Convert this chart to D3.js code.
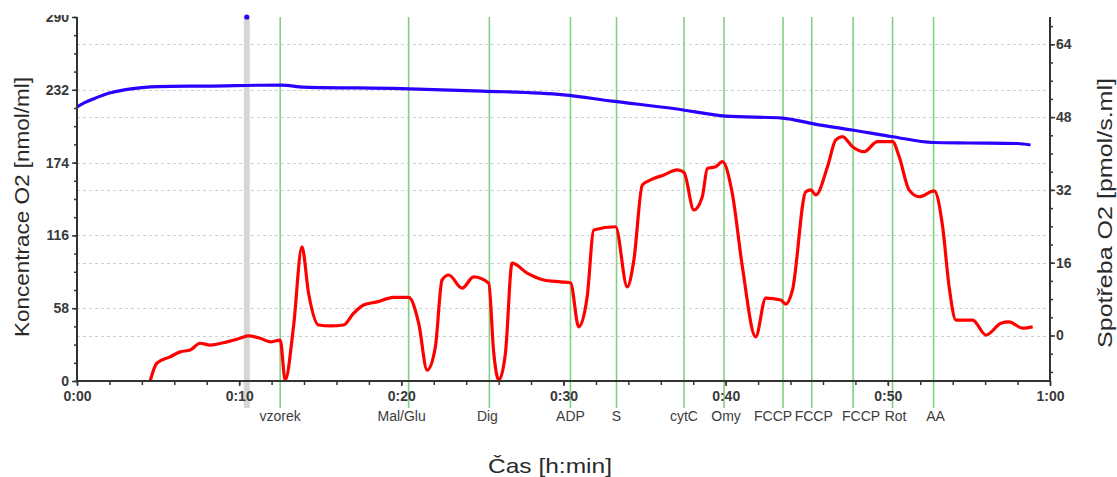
<!DOCTYPE html>
<html><head><meta charset="utf-8">
<script src="https://cdn.jsdelivr.net/npm/d3@7"></script>
<style>html,body{margin:0;padding:0;background:#fff;}svg{display:block;font-family:"Liberation Sans",Arial,sans-serif;}</style>
</head><body>
<svg id="c" width="1117" height="477"></svg>
<script>
// ---- data ----
const leftTicks = [0, 58, 116, 174, 232, 290];
const rightTicks = [0, 16, 32, 48, 64];
const xTicks = [0, 10, 20, 30, 40, 50, 60];
const xTickLabels = ["0:00", "0:10", "0:20", "0:30", "0:40", "0:50", "1:00"];

// O2 concentration (nmol/ml), left axis
const concTime = [0, 0.5, 1, 2, 3, 4, 5, 8, 12.6, 14, 20, 25, 30, 33, 37, 40, 43.5, 45.5, 47.8, 50.3, 52.8, 55, 58, 58.8];
const concValue = [218.3, 222, 224.7, 229.4, 232.2, 233.8, 234.6, 235, 235.8, 234.2, 233, 231, 228, 223, 216.7, 211, 209.5, 204.7, 200, 194.6, 190, 189.6, 189.2, 188];

// O2 consumption (pmol/s.ml), right axis
const fluxTime = [4.51, 4.92, 5.74, 6.36, 6.98, 7.59, 8.21, 9.24, 10.06, 10.57, 11.30, 11.91, 12.53, 12.84, 13.35, 13.87, 14.28, 14.90, 15.62, 16.44, 17.06, 17.67, 18.50, 19.52, 20.45, 21.07, 21.59, 22.10, 22.51, 22.92, 23.75, 24.46, 25.39, 25.70, 26.01, 26.42, 26.83, 27.76, 28.78, 29.81, 30.43, 30.94, 31.46, 31.87, 33.21, 33.93, 34.34, 34.86, 35.37, 36.19, 37.02, 37.43, 38.04, 38.56, 38.87, 39.38, 39.80, 40.41, 41.03, 41.85, 42.47, 43.40, 43.70, 44.12, 44.94, 45.25, 45.56, 46.28, 46.79, 47.20, 47.82, 48.54, 49.36, 50.29, 50.70, 51.31, 51.93, 52.86, 53.38, 53.78, 54.20, 55.23, 56.05, 56.98, 57.47, 58.31, 58.93];
const fluxValue = [-10, -6.1, -4.7, -3.6, -3.2, -1.7, -2.1, -1.4, -0.6, -0.1, -0.6, -1.4, -1.0, -9.8, 1.9, 19.5, 9.3, 2.3, 2.1, 2.3, 4.9, 6.7, 7.4, 8.4, 8.4, 2.7, -7.6, -2.5, 12.2, 13.3, 10.4, 12.9, 11.5, -3.9, -9.8, -3.9, 15.9, 13.7, 12.2, 11.8, 11.6, 1.9, 8.5, 23.2, 23.9, 10.7, 16.6, 33.1, 34.2, 35.3, 36.4, 35.8, 27.6, 30.5, 36.7, 37.1, 38.2, 31.2, 15.1, -0.3, 8.2, 7.8, 6.9, 10.0, 31.6, 32.0, 30.9, 37.1, 43.0, 43.7, 41.5, 40.4, 42.6, 42.6, 39.3, 32.0, 30.5, 31.8, 23.9, 10.7, 3.4, 3.4, 0.1, 2.7, 3.0, 1.6, 1.9];

// events (titration steps)
const eventNames = ["vzorek", "Mal/Glu", "Dig", "ADP", "S", "cytC", "Omy", "FCCP", "FCCP", "FCCP", "Rot", "AA"];
const eventTimes = [12.53, 20.45, 25.43, 30.43, 33.27, 37.43, 39.9, 43.54, 45.31, 47.86, 50.29, 52.82];
const markTime = [10.47];   // gray marker band
const markValue = [290];    // marker dot on concentration axis

// ---- layout ----
const L = 77, R = 1050, T = 17, B = 381;
const labelNudge = [0, -7, -2, 0, 0, 0, 2, -10, 2, 8, 3, 2];
const svg = d3.select("#c");
const x = d3.scaleLinear().domain([0, 60]).range([L, R]);
const yL = d3.scaleLinear().domain([0, 290]).range([B, T]);
const yR = d3.scaleLinear().domain([-10, 70]).range([B, T]);

const defs = svg.append("defs");
defs.append("clipPath").attr("id", "plot")
  .append("rect").attr("x", L).attr("y", T - 2).attr("width", R - L).attr("height", B - T + 2);
defs.append("clipPath").attr("id", "top")
  .append("rect").attr("x", -200).attr("y", 15).attr("width", 400).attr("height", 462);

// grid
const grid = svg.append("g").attr("stroke", "#cfcfcf").attr("stroke-width", 1).attr("stroke-dasharray", "3,3");
leftTicks.filter(v => v > 0 && v < 290).forEach(v => {
  grid.append("line").attr("x1", L).attr("x2", R).attr("y1", Math.round(yL(v)) + 0.5).attr("y2", Math.round(yL(v)) + 0.5);
});
rightTicks.forEach(v => {
  grid.append("line").attr("x1", L).attr("x2", R).attr("y1", Math.round(yR(v)) + 0.5).attr("y2", Math.round(yR(v)) + 0.5);
});

// gray marker band
svg.selectAll("rect.mark").data(markTime).join("rect")
  .attr("x", d => x(d) - 3).attr("y", T).attr("width", 6).attr("height", 408 - T)
  .attr("fill", "#d6d6d6");

// event lines
svg.append("g").selectAll("line").data(eventTimes).join("line")
  .attr("x1", d => x(d)).attr("x2", d => x(d)).attr("y1", T).attr("y2", 408)
  .attr("stroke", "#82d082").attr("stroke-width", 1.6);

// lines
const concLine = d3.line().x((d, i) => x(concTime[i])).y(d => yL(d)).curve(d3.curveMonotoneX);
const fluxLine = d3.line().x((d, i) => x(fluxTime[i])).y(d => yR(d)).curve(d3.curveMonotoneX);
svg.append("path").attr("d", concLine(concValue)).attr("fill", "none")
  .attr("stroke", "#2a00ff").attr("stroke-width", 3.2).attr("clip-path", "url(#plot)");
svg.append("path").attr("d", fluxLine(fluxValue)).attr("fill", "none")
  .attr("stroke", "#ff0000").attr("stroke-width", 3.2).attr("stroke-linejoin", "round").attr("clip-path", "url(#plot)");

svg.selectAll("circle.mark").data(markTime).join("circle")
  .attr("cx", d => x(d)).attr("cy", (d, i) => yL(markValue[i])).attr("r", 2.6).attr("fill", "#2a00ff");

// axes
const axColor = "#333";
const gx = svg.append("g").attr("transform", `translate(0,${B})`)
  .call(d3.axisBottom(x).tickValues(d3.range(0, 61, 2)).tickSize(4).tickFormat(""));
gx.append("g").call(d3.axisBottom(x).tickValues(xTicks).tickSize(5).tickFormat((d, i) => xTickLabels[i]));
gx.selectAll("text").attr("font-size", 14).attr("font-weight", "bold").attr("fill", "#3a3a3a").attr("dy", "0.85em")
  .attr("font-family", "Liberation Sans, Arial, sans-serif");

const gl = svg.append("g").attr("transform", `translate(${L},0)`).attr("clip-path", "url(#top)")
  .call(d3.axisLeft(yL).tickValues(d3.range(0, 291, 14.5)).tickSize(3).tickFormat(""));
gl.append("g").call(d3.axisLeft(yL).tickValues(leftTicks).tickSize(5).tickFormat(d3.format("d")));
gl.selectAll("text").attr("font-size", 14).attr("font-weight", "bold").attr("fill", "#3a3a3a")
  .attr("font-family", "Liberation Sans, Arial, sans-serif");

const gr = svg.append("g").attr("transform", `translate(${R},0)`)
  .call(d3.axisRight(yR).tickValues(d3.range(-8, 70, 4)).tickSize(3).tickFormat(""));
gr.append("g").call(d3.axisRight(yR).tickValues(rightTicks).tickSize(5).tickFormat(d3.format("d")));
gr.selectAll("text").attr("font-size", 14).attr("font-weight", "bold").attr("fill", "#3a3a3a").attr("x", 6)
  .attr("font-family", "Liberation Sans, Arial, sans-serif");

[gx, gl, gr].forEach(g => {
  g.selectAll(".domain").attr("stroke", axColor).attr("stroke-width", 2);
  g.selectAll(".tick line").attr("stroke", axColor).attr("stroke-width", 1.5);
});
gx.selectAll(".domain").attr("d", `M${L},0H${R}`);
gl.selectAll(".domain").attr("d", `M0,${T}V${B}`);
gr.selectAll(".domain").attr("d", `M0,${T}V${B + 1}`);

// event labels
svg.append("g").selectAll("text").data(eventNames).join("text")
  .attr("x", (d, i) => x(eventTimes[i]) + labelNudge[i]).attr("y", 421)
  .attr("text-anchor", "middle").attr("font-size", 14).attr("fill", "#3c3c3c")
  .text(d => d);

// titles
svg.append("text").attr("transform", "translate(29,207) rotate(-90)").attr("text-anchor", "middle")
  .attr("font-size", 21).attr("fill", "#2a2a2a").attr("textLength", 260).attr("lengthAdjust", "spacingAndGlyphs")
  .text("Koncentrace O2 [nmol/ml]");
svg.append("text").attr("transform", "translate(1112,213) rotate(-90)").attr("text-anchor", "middle")
  .attr("font-size", 21).attr("fill", "#2a2a2a").attr("textLength", 270).attr("lengthAdjust", "spacingAndGlyphs")
  .text("Spotřeba O2 [pmol/s.ml]");
svg.append("text").attr("x", 550).attr("y", 473).attr("text-anchor", "middle")
  .attr("font-size", 21).attr("fill", "#2a2a2a").attr("textLength", 124).attr("lengthAdjust", "spacingAndGlyphs")
  .text("Čas [h:min]");
</script>
</body></html>
